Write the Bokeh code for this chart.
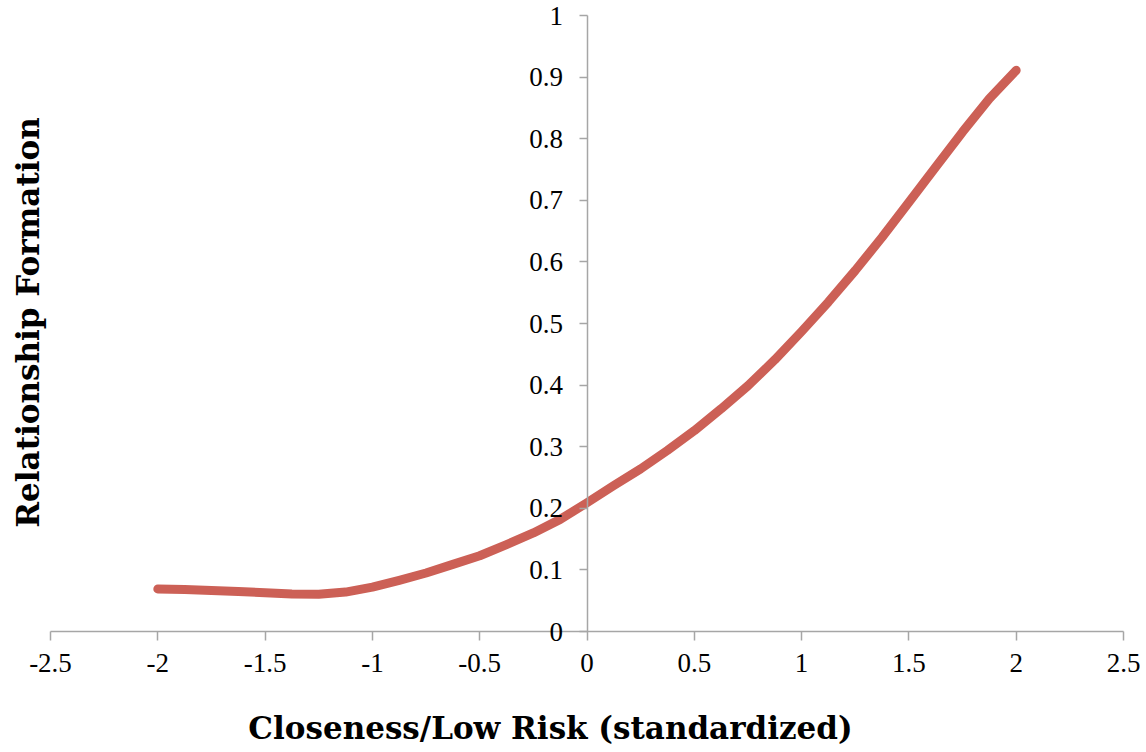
import math
from bokeh.plotting import figure
from bokeh.models import FixedTicker, Range1d, Label
from bokeh.embed import file_html
from bokeh.resources import INLINE

# ---- data ----
x_ticks = [-2.5, -2, -1.5, -1, -0.5, 0, 0.5, 1, 1.5, 2, 2.5]
x_tick_labels = ["-2.5", "-2", "-1.5", "-1", "-0.5", "0", "0.5", "1", "1.5", "2", "2.5"]
y_ticks = [0, 0.1, 0.2, 0.3, 0.4, 0.5, 0.6, 0.7, 0.8, 0.9, 1]
y_tick_labels = ["0", "0.1", "0.2", "0.3", "0.4", "0.5", "0.6", "0.7", "0.8", "0.9", "1"]

closeness = [-2, -1.875, -1.75, -1.625, -1.5, -1.375, -1.25, -1.125, -1, -0.875,
             -0.75, -0.625, -0.5, -0.375, -0.25, -0.125, 0, 0.125, 0.25, 0.375,
             0.5, 0.625, 0.75, 0.875, 1, 1.125, 1.25, 1.375, 1.5, 1.625, 1.75,
             1.875, 2]
formation = [0.069, 0.068, 0.0665, 0.065, 0.063, 0.061, 0.0605, 0.064, 0.072, 0.083,
             0.095, 0.109, 0.123, 0.141, 0.160, 0.182, 0.209, 0.237, 0.264, 0.294,
             0.326, 0.3615, 0.399, 0.441, 0.487, 0.535, 0.586, 0.640, 0.697, 0.754,
             0.811, 0.865, 0.911]

x_title = "Closeness/Low Risk (standardized)"
y_title = "Relationship Formation"

TICK_FONT = "Liberation Serif"
TITLE_FONT = "DejaVu Serif"
AXIS_COLOR = "#A6A6A6"
LINE_COLOR = "#CC6056"

# ---- layout: the frame covers the whole canvas, axes are drawn at x=0 / y=0 ----
W, H = 1140, 745
X_LEFT_PX, X_RIGHT_PX = 50, 1123     # where x = -2.5 and x = 2.5 fall
Y_TOP_PX, Y_ZERO_PX = 15, 631        # where y = 1 and y = 0 fall
xu = (X_RIGHT_PX - X_LEFT_PX) / (x_ticks[-1] - x_ticks[0])
yu = (Y_ZERO_PX - Y_TOP_PX) / (y_ticks[-1] - y_ticks[0])
x_start = x_ticks[0] - X_LEFT_PX / xu
x_end = x_ticks[-1] + (W - X_RIGHT_PX) / xu
y_start = y_ticks[0] - (H - Y_ZERO_PX) / yu
y_end = y_ticks[-1] + Y_TOP_PX / yu

p = figure(width=W, height=H, output_backend="svg", toolbar_location=None,
           x_range=Range1d(x_start, x_end), y_range=Range1d(y_start, y_end),
           min_border=0, min_border_left=0, min_border_right=0,
           min_border_top=0, min_border_bottom=0)
p.outline_line_color = None
p.xgrid.visible = False
p.ygrid.visible = False
p.background_fill_color = "white"
p.border_fill_color = "white"

p.line(closeness, formation, line_color=LINE_COLOR, line_width=9,
       line_cap="round", line_join="round")

# x axis drawn at y = 0
xa = p.xaxis[0]
xa.fixed_location = 0
xa.bounds = (x_ticks[0], x_ticks[-1])
xa.ticker = FixedTicker(ticks=x_ticks)
xa.major_label_overrides = {t: l for t, l in zip(x_ticks, x_tick_labels)}
xa.axis_line_color = AXIS_COLOR
xa.axis_line_width = 1.5
xa.major_tick_line_color = AXIS_COLOR
xa.major_tick_line_width = 1.5
xa.major_tick_in = 0
xa.major_tick_out = 9
xa.minor_tick_line_color = None
xa.major_label_text_font = TICK_FONT
xa.major_label_text_font_size = "27px"
xa.major_label_text_color = "black"
xa.major_label_standoff = 13

# y axis drawn at x = 0
ya = p.yaxis[0]
ya.fixed_location = 0
ya.bounds = (y_ticks[0], y_ticks[-1])
ya.ticker = FixedTicker(ticks=y_ticks)
ya.major_label_overrides = {t: l for t, l in zip(y_ticks, y_tick_labels)}
ya.axis_line_color = AXIS_COLOR
ya.axis_line_width = 1.5
ya.major_tick_line_color = AXIS_COLOR
ya.major_tick_line_width = 1.5
ya.major_tick_in = 0
ya.major_tick_out = 8
ya.minor_tick_line_color = None
ya.major_label_text_font = TICK_FONT
ya.major_label_text_font_size = "27px"
ya.major_label_text_color = "black"
ya.major_label_standoff = 16

# axis titles (screen units, measured from the bottom-left of the canvas)
p.add_layout(Label(x=550, y=H - 727, x_units="screen", y_units="screen",
                   text=x_title, text_align="center", text_baseline="middle",
                   text_font=TITLE_FONT, text_font_style="bold",
                   text_font_size="31px", text_color="black"))
p.add_layout(Label(x=27, y=H - 322, x_units="screen", y_units="screen",
                   text=y_title, angle=math.pi / 2, text_align="center",
                   text_baseline="middle", text_font=TITLE_FONT,
                   text_font_style="bold", text_font_size="31px",
                   text_color="black"))

open("out.html", "w").write(file_html(p, INLINE))
